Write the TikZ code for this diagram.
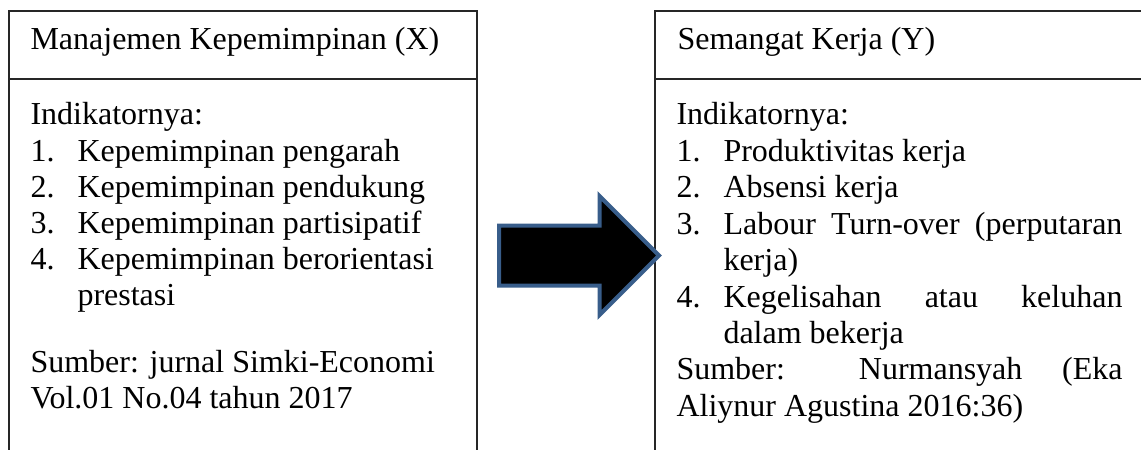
\documentclass[tikz,border=0pt]{standalone}
\usepackage{fontspec}
\setmainfont{Liberation Serif}
\usetikzlibrary{shapes.arrows}
\definecolor{arrowblue}{HTML}{385D8A}
\tikzstyle{txt}=[anchor=base west,inner sep=0pt,font=\fontsize{12}{13.5}\selectfont]
\tikzstyle{boxline}=[line width=0.6pt,black!85]
\tikzstyle{bigarrow}=[single arrow,draw=arrowblue,fill=black,line width=1.5pt,
  inner xsep=0pt,inner ysep=10.5pt,minimum height=60pt,
  single arrow head extend=11.06pt,single arrow tip angle=90,anchor=tail]

\begin{document}
\begin{tikzpicture}[x=0.375pt,y=-0.375pt]
    \useasboundingbox (0,0) rectangle (1141,450);
    % box X (open at the bottom)
    \coordinate (xbl) at (9,450);
    \coordinate (xtl) at (9,11);
    \coordinate (xtr) at (477,11);
    \coordinate (xbr) at (477,450);
    \draw[boxline] (xbl) -- (xtl) -- (xtr) -- (xbr);
    \draw[boxline] (9,79) -- (477,79);
    % box Y (open at the bottom and right)
    \coordinate (ybl) at (655,450);
    \coordinate (ytl) at (655,11);
    \coordinate (ytr) at (1141,11);
    \draw[boxline] (ybl) -- (ytl) -- (ytr);
    \draw[boxline] (655,79) -- (1141,79);

    % texts of box X
    \node[txt] (xtitle) at (30,49) {Manajemen Kepemimpinan (X)};
    \node[txt] (xind) at (30,125) {Indikatornya:};
    \foreach \i/\t in {1/Kepemimpinan pengarah,2/Kepemimpinan pendukung,3/Kepemimpinan partisipatif,4/Kepemimpinan berorientasi}
    {
        \node[txt] (xn\i) at (30,{125+36*\i}) {\i.};
        \node[txt] (xi\i) at (77,{125+36*\i}) {\t};
    }
    \node[txt] (xi5) at (77,305) {prestasi};
    \node[txt] (xsrc1) at (30,372) {Sumber: jurnal Simki-Economi};
    \node[txt] (xsrc2) at (30,408) {Vol.01 No.04 tahun 2017};

    % texts of box Y
    \node[txt] (ytitle) at (677,49) {Semangat Kerja (Y)};
    \node[txt] (yind) at (676,125) {Indikatornya:};
    \node[txt] (yn1) at (676,161.4) {1.};
    \node[txt] (yi1) at (723,161.4) {Produktivitas kerja};
    \node[txt] (yn2) at (676,197.8) {2.};
    \node[txt] (yi2) at (723,197.8) {Absensi kerja};
    \node[txt] (yn3) at (676,234.2) {3.};
    \node[txt] (yi3) at (723,234.2) {\makebox[149.6pt][s]{Labour Turn-over (perputaran}};
    \node[txt] (yi3b) at (723,270.6) {kerja)};
    \node[txt] (yn4) at (676,307) {4.};
    \node[txt] (yi4) at (723,307) {\makebox[149.6pt][s]{Kegelisahan atau keluhan}};
    \node[txt] (yi4b) at (723,343.4) {dalam bekerja};
    \node[txt] (ysrc1) at (676,379.8) {\makebox[167.25pt][s]{Sumber: Nurmansyah (Eka}};
    \node[txt] (ysrc2) at (676,416.2) {Aliynur Agustina 2016:36)};

    % arrow X -> Y
    \node[bigarrow] (arrow) at (497,255.5) {};
\end{tikzpicture}
\end{document}
